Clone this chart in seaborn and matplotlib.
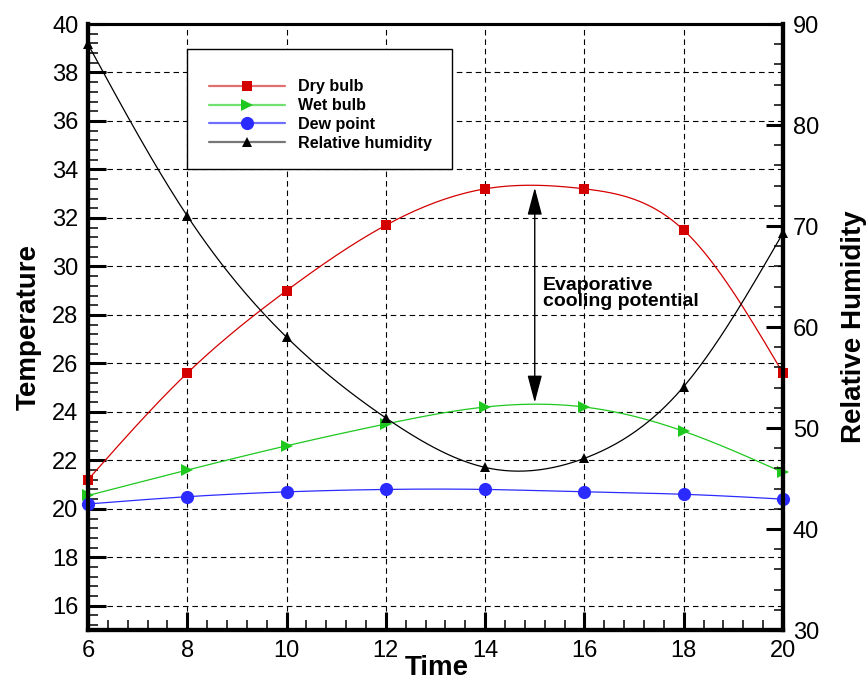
import numpy as np
import pandas as pd
import matplotlib
matplotlib.use("Agg")
import matplotlib.pyplot as plt
import seaborn as sns
from matplotlib.ticker import MultipleLocator
from matplotlib.lines import Line2D
from matplotlib.patches import Rectangle

# data
time = [6, 8, 10, 12, 14, 16, 18, 20]
dryBulb = [21.2, 25.6, 29.0, 31.7, 33.2, 33.2, 31.5, 25.6]
wetBulb = [20.55, 21.6, 22.6, 23.5, 24.2, 24.2, 23.2, 21.5]
dewPoint = [20.2, 20.5, 20.7, 20.8, 20.8, 20.7, 20.6, 20.4]
relHumidity = [88, 71, 59, 51, 46.1, 47, 54.1, 69.3]

xTicks = [6, 8, 10, 12, 14, 16, 18, 20]


def smoothCurve(x, y, n=300):
    """Natural cubic spline through the points, used only to draw the smooth line."""
    x = np.asarray(x, float)
    y = np.asarray(y, float)
    h = np.diff(x)
    m = len(x)
    A = np.zeros((m, m))
    r = np.zeros(m)
    A[0, 0] = A[-1, -1] = 1
    for i in range(1, m - 1):
        A[i, i - 1] = h[i - 1]
        A[i, i] = 2 * (h[i - 1] + h[i])
        A[i, i + 1] = h[i]
        r[i] = 3 * ((y[i + 1] - y[i]) / h[i] - (y[i] - y[i - 1]) / h[i - 1])
    c = np.linalg.solve(A, r)
    b = (y[1:] - y[:-1]) / h - h * (2 * c[:-1] + c[1:]) / 3
    d = (c[1:] - c[:-1]) / (3 * h)
    xs = np.linspace(x[0], x[-1], n)
    idx = np.clip(np.searchsorted(x, xs, side="right") - 1, 0, m - 2)
    dx = xs - x[idx]
    ys = y[idx] + b[idx] * dx + c[idx] * dx ** 2 + d[idx] * dx ** 3
    return pd.DataFrame({"x": xs, "y": ys})


sns.set_style("ticks")
plt.rcParams["font.family"] = ["Liberation Sans", "DejaVu Sans"]
plt.rcParams["axes.edgecolor"] = "black"
plt.rcParams["xtick.color"] = "black"
plt.rcParams["ytick.color"] = "black"
plt.rcParams["text.color"] = "black"
plt.rcParams["axes.labelcolor"] = "black"

fig = plt.figure(figsize=(8.66, 6.82), dpi=100)
ax = fig.add_axes([0.1016, 0.0762, 0.8025, 0.8886])
ax2 = ax.twinx()

red, green, blue = "#d40000", "#1ec81e", "#2b2bff"

series = [
    (ax, dryBulb, red, "s", 7, "Dry bulb"),
    (ax, wetBulb, green, ">", 8, "Wet bulb"),
    (ax, dewPoint, blue, "o", 9.5, "Dew point"),
    (ax2, relHumidity, "black", "^", 7.5, "Relative humidity"),
]

for target, values, color, marker, ms, label in series:
    curve = smoothCurve(time, values)
    sns.lineplot(data=curve, x="x", y="y", ax=target, color=color, lw=0.9,
                 legend=False, clip_on=False, zorder=3)
    pts = pd.DataFrame({"x": time, "y": values})
    sns.lineplot(data=pts, x="x", y="y", ax=target, color=color, lw=0,
                 marker=marker, markersize=ms, markeredgewidth=0,
                 legend=False, clip_on=False, zorder=4)

ax.set_xlim(6, 20)
ax.set_ylim(15, 40)
ax2.set_ylim(30, 90)

ax.set_xticks(xTicks)
ax.xaxis.set_minor_locator(MultipleLocator(0.4))
ax.yaxis.set_major_locator(MultipleLocator(2))
ax.yaxis.set_minor_locator(MultipleLocator(0.4))
ax2.yaxis.set_major_locator(MultipleLocator(10))
ax2.yaxis.set_minor_locator(MultipleLocator(2))

ax.grid(True, which="major", color="black", lw=0.8, linestyle=(0, (5, 3.5)))
ax.set_axisbelow(True)

ax.tick_params(which="both", direction="in", top=False, right=False, labelsize=17)
ax.tick_params(which="major", length=13, width=2.2, pad=7)
ax.tick_params(which="minor", length=7, width=1.1)
ax2.tick_params(which="both", direction="in", labelsize=17)
ax2.tick_params(which="major", length=12, width=2.2, pad=7)
ax2.tick_params(which="minor", length=6.5, width=1.1)

for a in (ax, ax2):
    for side in ("left", "right", "bottom"):
        a.spines[side].set_linewidth(3)
    a.spines["top"].set_linewidth(2.2)
    a.spines["top"].set_visible(True)
    a.spines["right"].set_visible(True)

ax.set_xlabel("Time", fontsize=20, fontweight="bold")
ax.set_ylabel("Temperature", fontsize=20, fontweight="bold")
ax2.set_ylabel("Relative Humidity", fontsize=20, fontweight="bold")
ax.xaxis.set_label_coords(0.502, -0.041)
ax.yaxis.set_label_coords(-0.066, 0.5)
ax2.yaxis.set_label_coords(1.083, 0.5)

# evaporative cooling arrow
ax.annotate("", xy=(15, 33.25), xytext=(15, 24.38),
            arrowprops=dict(arrowstyle="<|-|>,head_length=1.7,head_width=0.45",
                            color="black", lw=1, shrinkA=0, shrinkB=0,
                            mutation_scale=10), zorder=5)
ax.text(15.17, 29.58, "Evaporative\ncooling potential", fontsize=14,
        fontweight="bold", ha="left", va="top", linespacing=0.97, zorder=5)

# legend box
ax2.add_patch(Rectangle((0.1424, 0.7607), 0.3813, 0.198, transform=ax2.transAxes,
                        facecolor="white", edgecolor="black", lw=1, zorder=6))
lineColors = ["#e07070", "#70e070", "#7070ff", "#777777"]
handles = [
    Line2D([], [], color=lc, lw=1.6, marker=s[3], markersize=s[4],
           markerfacecolor=s[2], markeredgewidth=0)
    for lc, s in zip(lineColors, series)
]
labels = [s[5] for s in series]
leg = ax2.legend(handles, labels, loc="upper left", bbox_to_anchor=(0.1625, 0.922),
                 frameon=False, borderpad=0, handlelength=4.7, handletextpad=0.8,
                 labelspacing=0.24, prop={"size": 11.6, "weight": "bold"})
leg.set_zorder(7)

fig.savefig("out.png", dpi=100)
